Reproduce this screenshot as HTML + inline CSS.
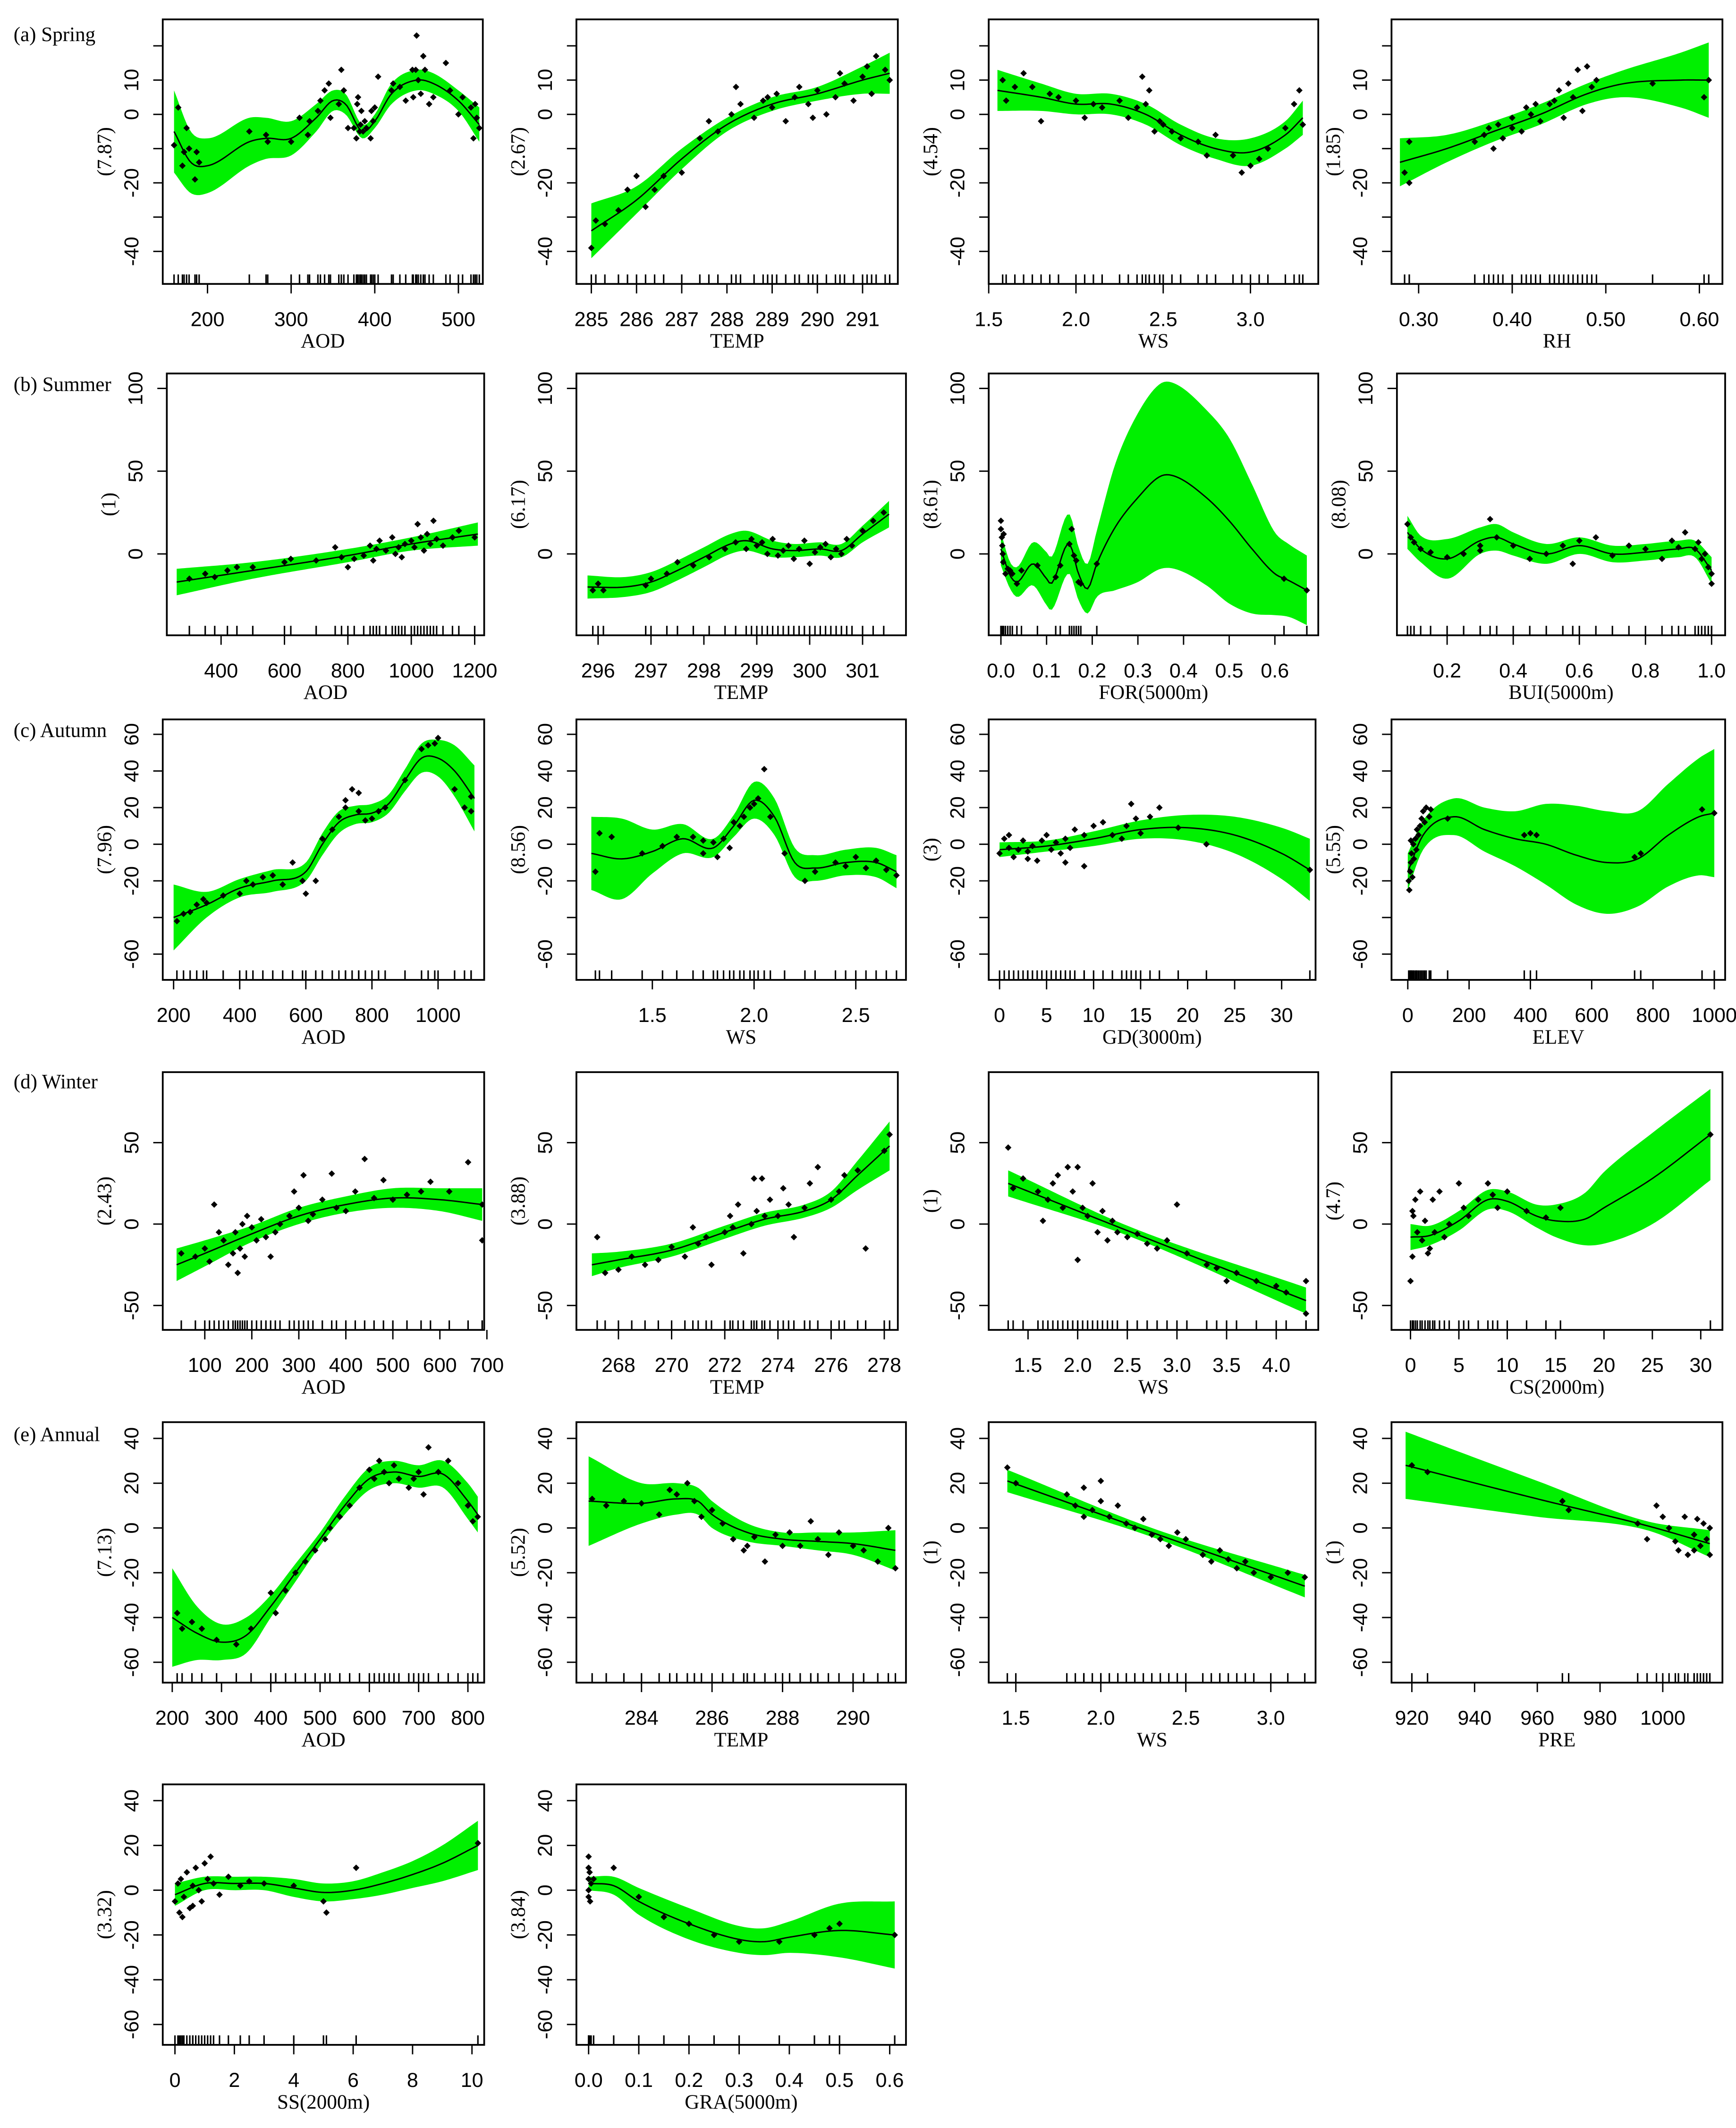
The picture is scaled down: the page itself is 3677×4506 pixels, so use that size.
<!DOCTYPE html>
<html><head><meta charset="utf-8"><style>
html,body{margin:0;padding:0;background:#fff}
svg{display:block}
.tk{font-family:"Liberation Sans",sans-serif;font-size:15px;fill:#000}
.lb{font-family:"Liberation Serif",serif;font-size:15px;fill:#000}
</style></head><body>
<svg id="fig" width="3677" height="4506" viewBox="0 0 1280 1568" xmlns="http://www.w3.org/2000/svg">
<rect width="1280" height="1568" fill="#fff"/>
<text class="lb" x="10" y="30">(a) Spring</text>
<text class="lb" x="10" y="288">(b) Summer</text>
<text class="lb" x="10" y="543">(c) Autumn</text>
<text class="lb" x="10" y="802">(d) Winter</text>
<text class="lb" x="10" y="1062">(e) Annual</text>
</svg>
<script>
const p1_fx=[160,180,200,250,270,300,330,350,365,385,400,420,450,470,500,525];
const p1_fy=[-5,-14,-15,-8,-7,-7,-1,4,3,-5,-2,6,10,9,4,-3];
const p1_se=[12,9,8,7,6,5,4,3,3,2,2,3,3,3,3,5];
const p1_pts=[[160,-9],[165,2],[170,-15],[172,-11],[175,-4],[178,-10],[185,-19],[187,-11],[190,-14],[250,-5],[270,-6],[272,-8],[300,-8],[310,-1],[320,-6],[322,-2],[332,1],[335,4],[340,7],[345,9],[347,-1],[357,3],[360,13],[363,7],[368,-4],[375,-4],[378,-7],[379,3],[380,5],[382,-5],[383,-3],[384,1],[386,-5],[388,-2],[390,-4],[395,-7],[396,1],[398,-2],[400,2],[404,11],[420,7],[422,9],[430,8],[437,4],[445,13],[446,5],[449,13],[450,23],[452,10],[455,6],[458,17],[460,13],[465,3],[470,5],[485,15],[490,7],[500,0],[505,5],[515,2],[518,-7],[520,3],[522,-1],[525,-4]];

const p2_fx=[285,286,287,288,289,290,291,291.6];
const p2_fy=[-34,-25,-13,-3,3,6,10,12];
const p2_se=[8,4,3,2,2,2,4,6];
const p2_pts=[[285,-39],[285.1,-31],[285.3,-32],[285.6,-28],[285.8,-22],[286,-18],[286.2,-27],[286.4,-22],[286.6,-18],[287,-17],[287.4,-7],[287.8,-5],[288.1,0],[288.3,3],[288.6,-1],[288.8,4],[289,2],[289.1,6],[289.3,-2],[289.5,5],[289.6,8],[289.8,3],[290,7],[290.2,0],[290.4,5],[290.6,9],[290.8,4],[291,11],[291.2,6],[291.3,17],[291.5,13],[291.6,10],[288.2,8],[289.9,-1],[290.5,12],[291.1,14],[288.9,5],[287.6,-2]];

const p3_fx=[1.55,1.8,2.0,2.2,2.4,2.6,2.8,3.0,3.2,3.3];
const p3_fy=[7,5,3,3,0,-6,-10,-11,-6,-1];
const p3_se=[6,4,3,3,3,3,3,4,4,5];
const p3_pts=[[1.58,10],[1.6,4],[1.65,8],[1.7,12],[1.75,8],[1.8,-2],[1.85,6],[1.9,5],[2.0,4],[2.05,-1],[2.1,3],[2.15,2],[2.25,4],[2.3,-1],[2.35,2],[2.38,11],[2.4,3],[2.42,7],[2.45,-5],[2.48,-2],[2.5,-3],[2.55,-5],[2.6,-7],[2.7,-8],[2.75,-12],[2.8,-6],[2.9,-12],[2.95,-17],[3.0,-15],[3.05,-13],[3.1,-10],[3.2,-4],[3.25,3],[3.28,7],[3.3,-3]];

const p4_fx=[0.28,0.33,0.38,0.43,0.48,0.52,0.58,0.61];
const p4_fy=[-14,-10,-5,0,6,9,10,10];
const p4_se=[7,4,3,3,3,4,8,11];
const p4_pts=[[0.285,-17],[0.29,-20],[0.29,-8],[0.36,-8],[0.37,-6],[0.375,-4],[0.38,-10],[0.385,-3],[0.39,-7],[0.4,-1],[0.41,-5],[0.415,2],[0.42,0],[0.43,-2],[0.44,3],[0.445,4],[0.45,7],[0.46,9],[0.465,5],[0.47,13],[0.475,1],[0.48,14],[0.485,8],[0.49,10],[0.4,-4],[0.425,3],[0.455,-1],[0.605,5],[0.61,10],[0.55,9]];

const p5_fx=[260,500,800,1000,1210];
const p5_fy=[-17,-10,-1,6,12];
const p5_se=[8,5,4,4,7];
const p5_pts=[[300,-15],[350,-12],[380,-14],[420,-10],[450,-8],[500,-8],[600,-5],[620,-3],[700,-4],[780,-2],[800,-8],[820,-3],[850,-1],[870,5],[890,3],[900,8],[920,2],[940,10],[950,0],[960,4],[970,-2],[980,6],[1000,8],[1010,4],[1020,18],[1030,10],[1040,2],[1050,12],[1060,6],[1070,20],[1080,9],[1100,5],[1130,10],[1150,14],[1200,10],[760,4],[880,-4]];

const p6_fx=[295.8,296.5,297,297.5,298,298.5,298.8,299.3,299.7,300.2,300.6,301,301.5];
const p6_fy=[-20,-20,-17,-10,-2,6,8,3,2,3,2,12,24];
const p6_se=[7,6,6,6,6,6,6,5,4,4,4,5,8];
const p6_pts=[[295.9,-22],[296,-18],[296.1,-22],[296.9,-19],[297,-15],[297.3,-12],[297.5,-5],[297.8,-7],[298.1,-2],[298.4,3],[298.6,7],[298.9,9],[299,5],[299.1,7],[299.2,0],[299.3,9],[299.4,-1],[299.5,2],[299.6,5],[299.7,-3],[299.8,3],[299.9,8],[300,-6],[300.1,1],[300.2,4],[300.3,6],[300.4,-2],[300.5,3],[300.6,0],[300.7,9],[301,14],[301.2,20],[301.4,25],[298.8,3],[300.8,5]];

const p7_fx=[0,0.02,0.035,0.07,0.1,0.11,0.15,0.17,0.19,0.21,0.25,0.3,0.35,0.38,0.45,0.5,0.55,0.6,0.63,0.67];
const p7_fy=[3,-13,-17,-6,-15,-18,6,-12,-21,-6,16,34,47,47,34,20,3,-12,-16,-22];
const p7_se=[10,8,9,13,16,16,18,16,15,20,38,51,56,56,53,50,39,25,22,21];
const p7_pts=[[0,20],[0,15],[0.002,10],[0.003,5],[0.004,0],[0.005,-5],[0.006,12],[0.01,-12],[0.015,-9],[0.02,-10],[0.025,-12],[0.035,-18],[0.045,-10],[0.08,-7],[0.12,-14],[0.13,-7],[0.15,6],[0.155,15],[0.16,-1],[0.165,-4],[0.17,-17],[0.175,-18],[0.21,-6],[0.62,-15],[0.67,-22]];

const p8_fx=[0.08,0.12,0.2,0.3,0.35,0.4,0.5,0.6,0.7,0.8,0.9,0.95,1.0];
const p8_fy=[13,3,-3,8,10,6,0,5,0,1,3,3,-10];
const p8_se=[10,8,12,8,8,7,6,5,5,5,5,5,8];
const p8_pts=[[0.08,18],[0.09,10],[0.1,7],[0.12,3],[0.15,1],[0.2,-2],[0.25,0],[0.3,5],[0.33,21],[0.35,10],[0.4,5],[0.45,-3],[0.5,0],[0.55,5],[0.58,-6],[0.6,8],[0.65,10],[0.7,-1],[0.75,5],[0.8,3],[0.85,-3],[0.88,8],[0.9,4],[0.92,13],[0.95,3],[0.97,-3],[0.98,0],[0.99,-8],[1.0,-12],[1.0,-18],[0.96,7],[0.3,2]];

const p9_fx=[200,300,400,500,600,650,700,750,800,850,900,950,1000,1050,1110];
const p9_fy=[-40,-33,-24,-20,-15,0,12,16,17,22,35,47,47,40,25];
const p9_se=[18,7,5,6,5,6,6,5,5,5,6,8,10,14,18];
const p9_pts=[[210,-42],[230,-38],[250,-37],[270,-33],[290,-30],[300,-32],[350,-28],[400,-27],[420,-20],[440,-22],[470,-18],[500,-17],[530,-22],[560,-10],[590,-20],[600,-27],[630,-20],[650,3],[680,8],[700,15],[720,24],[740,30],[760,28],[780,13],[800,14],[820,18],[840,20],[900,35],[950,52],[970,54],[990,55],[1000,58],[1050,30],[1080,20],[1100,18],[1100,26],[720,20],[760,18]];

const p10_fx=[1.2,1.35,1.5,1.65,1.8,1.9,2.0,2.1,2.2,2.3,2.45,2.6,2.7];
const p10_fy=[-5,-8,-4,3,-2,10,24,15,-10,-13,-10,-10,-15];
const p10_se=[20,22,12,8,5,6,10,10,8,7,7,8,9];
const p10_pts=[[1.22,-15],[1.24,6],[1.3,4],[1.45,-5],[1.55,-1],[1.62,4],[1.7,4],[1.75,2],[1.8,1],[1.82,-7],[1.85,3],[1.88,-2],[1.9,12],[1.93,10],[1.95,15],[1.98,20],[2.0,22],[2.02,25],[2.05,41],[2.08,15],[2.15,-5],[2.25,-20],[2.3,-15],[2.4,-10],[2.45,-12],[2.5,-7],[2.55,-13],[2.6,-9],[2.65,-14],[2.7,-17],[1.75,-5]];

const p11_fx=[0,5,10,15,20,25,30,33];
const p11_fy=[-3,-1,3,8,9,5,-5,-14];
const p11_se=[4,3,4,5,7,10,14,17];
const p11_pts=[[0,-5],[0.5,3],[1,-2],[1.5,-7],[2,-3],[2.5,2],[3,-4],[3.5,-1],[4,-9],[4.5,2],[5,5],[5.5,-3],[6,1],[6.5,-5],[7,3],[7.5,-2],[8,8],[9,5],[10,10],[11,12],[12,5],[13,3],[13.5,10],[14,22],[14.5,14],[15,6],[16,15],[17,20],[19,9],[22,0],[33,-14],[1,5],[3,-8],[9,-12],[7,-10]];

const p12_fx=[0,50,150,250,350,450,550,650,750,850,950,1000];
const p12_fy=[-15,5,15,8,3,0,-6,-10,-8,5,15,17];
const p12_se=[10,8,10,12,15,22,27,28,26,28,32,35];
const p12_pts=[[5,-25],[8,-15],[10,-10],[12,-5],[15,-18],[18,0],[20,-8],[25,3],[28,-3],[30,8],[35,5],[40,10],[45,14],[50,18],[55,12],[60,20],[70,15],[75,19],[130,14],[380,5],[400,6],[420,5],[740,-7],[760,-5],[960,19],[1000,17],[3,-20],[10,2]];

const p13_fx=[40,100,200,300,400,500,600,690];
const p13_fy=[-25,-18,-6,5,12,16,15,12];
const p13_se=[10,8,5,5,5,6,7,10];
const p13_pts=[[50,-18],[80,-20],[100,-15],[110,-23],[120,12],[140,-10],[150,-25],[160,-18],[165,-5],[170,-30],[175,-15],[180,0],[185,-20],[190,5],[200,-2],[210,-10],[220,3],[230,-8],[250,-5],[260,0],[280,5],[290,20],[300,10],[310,30],[320,2],[330,6],[350,15],[370,31],[380,10],[400,8],[420,20],[440,40],[460,16],[480,27],[500,15],[530,18],[560,20],[580,26],[620,20],[660,38],[690,-10],[690,12],[240,-20],[130,-5]];

const p14_fx=[267,268,270,272,273.5,275,276,277,278.2];
const p14_fy=[-25,-22,-16,-5,3,8,15,30,48];
const p14_se=[7,5,4,4,4,4,5,9,15];
const p14_pts=[[267.2,-8],[267.5,-30],[268,-28],[268.5,-20],[269,-25],[269.5,-22],[270,-14],[270.5,-20],[271,-12],[271.3,-8],[271.5,-25],[272,-5],[272.2,5],[272.3,-2],[272.5,12],[272.7,-18],[273,0],[273.2,8],[273.4,28],[273.5,5],[273.7,15],[274,5],[274.2,22],[274.4,12],[274.6,-8],[275,10],[275.2,25],[275.5,35],[276,15],[276.3,20],[276.5,30],[277,33],[277.3,-15],[278,45],[278.2,55],[270.8,-2],[273.1,28]];

const p15_fx=[1.3,2.5,4.3];
const p15_fy=[25,-4,-47];
const p15_se=[8,3,8];
const p15_pts=[[1.3,47],[1.35,22],[1.45,28],[1.6,20],[1.7,15],[1.75,25],[1.8,30],[1.85,10],[1.9,35],[1.95,20],[2.0,35],[2.0,-22],[2.05,10],[2.1,5],[2.15,25],[2.2,-5],[2.25,8],[2.3,-10],[2.35,2],[2.4,-5],[2.5,-8],[2.6,-6],[2.7,-12],[2.9,-10],[3.0,12],[3.1,-18],[3.3,-25],[3.4,-27],[3.5,-35],[3.6,-30],[3.8,-35],[4.0,-38],[4.1,-42],[4.3,-35],[4.3,-55],[1.65,2],[2.8,-15]];

const p16_fx=[0,2,5,8,10,13,15,18,20,25,31];
const p16_fy=[-8,-7,2,15,14,5,2,3,10,28,55];
const p16_se=[8,6,6,6,6,7,10,16,22,28,28];
const p16_pts=[[0,-35],[0.2,-20],[0.3,5],[0.5,15],[0.7,-5],[1,20],[1.2,-10],[1.5,2],[2,-15],[2.3,15],[2.5,-5],[3,20],[3.5,-8],[4,0],[5,25],[5.5,10],[6,5],[7,15],[8,25],[8.5,18],[9,10],[10,20],[12,8],[14,4],[15.5,10],[31,55],[0.2,8],[1.8,-18]];

const p17_fx=[200,250,300,350,400,450,500,550,600,650,700,750,800,820];
const p17_fy=[-40,-47,-51,-48,-35,-20,-5,10,22,25,23,24,12,6];
const p17_se=[22,12,8,8,5,4,3,4,5,5,5,6,8,8];
const p17_pts=[[210,-38],[220,-45],[240,-42],[260,-45],[290,-50],[330,-52],[360,-45],[400,-29],[410,-38],[430,-28],[450,-20],[470,-15],[490,-10],[510,-5],[520,0],[540,5],[560,10],[580,18],[600,26],[610,22],[620,30],[640,20],[650,28],[660,22],[680,18],[700,25],[710,15],[720,36],[740,25],[760,30],[780,20],[800,10],[810,3],[820,5],[690,22],[630,25]];

const p18_fx=[282.5,284,285,285.6,286,287,288,289,290,291.2];
const p18_fy=[12,11,13,12,6,-2,-5,-6,-7,-10];
const p18_se=[20,9,7,6,6,4,3,4,5,9];
const p18_pts=[[282.6,13],[283,10],[283.5,12],[284,11],[284.5,6],[284.8,17],[285,15],[285.3,20],[285.5,12],[285.7,5],[286,8],[286.3,2],[286.6,-5],[286.9,-10],[287.2,-4],[287.5,-15],[287.8,-3],[288,-8],[288.2,-2],[288.5,-8],[288.8,3],[289,-5],[289.3,-12],[289.6,-2],[290,-8],[290.3,-10],[290.7,-15],[291,0],[291.2,-18],[287,-8]];

const p19_fx=[1.45,2.3,3.2];
const p19_fy=[21,-2,-26];
const p19_se=[5,2,5];
const p19_pts=[[1.45,27],[1.5,20],[1.8,15],[1.85,10],[1.9,18],[1.95,8],[2.0,12],[2.0,21],[2.05,5],[2.1,10],[2.15,2],[2.2,0],[2.25,4],[2.3,-3],[2.35,-5],[2.4,-8],[2.5,-5],[2.6,-12],[2.65,-15],[2.7,-10],[2.8,-18],[2.85,-15],[2.9,-20],[3.0,-22],[3.1,-20],[3.2,-22],[1.9,5],[2.45,-2],[2.75,-14]];

const p20_fx=[918,960,995,1015];
const p20_fy=[28,13,1,-7];
const p20_se=[15,8,2,6];
const p20_pts=[[920,28],[925,25],[968,12],[970,8],[992,2],[995,-5],[998,10],[1000,5],[1002,0],[1005,-10],[1007,5],[1008,-12],[1010,-3],[1012,-8],[1013,2],[1014,-5],[1015,-12],[1010,-10],[1015,0],[1004,-6],[1011,4]];

const p21_fx=[0,1,2,3,4,5,6,7,8,9,10.2];
const p21_fy=[-2,3,3,3,1,-1,0,3,7,12,20];
const p21_se=[5,3,3,3,4,4,4,5,6,8,11];
const p21_pts=[[0,-5],[0.1,3],[0.15,-10],[0.2,5],[0.3,-3],[0.4,8],[0.5,-8],[0.6,2],[0.7,10],[0.8,0],[0.9,-5],[1.0,12],[1.1,5],[1.2,15],[1.3,3],[1.5,-2],[1.8,6],[2.2,2],[2.5,4],[3,3],[4,2],[5,-5],[5.1,-10],[6.1,10],[10.2,21],[0.25,-12],[0.6,-7]];

const p22_fx=[0,0.05,0.1,0.2,0.3,0.35,0.4,0.5,0.61];
const p22_fy=[3,2,-5,-15,-22,-23,-21,-18,-20];
const p22_se=[3,4,6,7,6,6,7,12,15];
const p22_pts=[[0,15],[0,10],[0,5],[0,0],[0,-3],[0.002,8],[0.003,-5],[0.005,3],[0.01,5],[0.05,10],[0.1,-3],[0.15,-12],[0.2,-15],[0.25,-20],[0.3,-23],[0.38,-23],[0.45,-20],[0.48,-17],[0.5,-15],[0.61,-20]];

const yLabels=["(7.87)","(2.67)","(4.54)","(1.85)","(1)","(6.17)","(8.61)","(8.08)","(7.96)","(8.56)","(3)","(5.55)","(2.43)","(3.88)","(1)","(4.7)","(7.13)","(5.52)","(1)","(1)","(3.32)","(3.84)"];
const xLabels=["AOD","TEMP","WS","RH","AOD","TEMP","FOR(5000m)","BUI(5000m)","AOD","WS","GD(3000m)","ELEV","AOD","TEMP","WS","CS(2000m)","AOD","TEMP","WS","PRE","SS(2000m)","GRA(5000m)"];
const xTicks=[
 ["200","300","400","500"],["285","286","287","288","289","290","291"],["1.5","2.0","2.5","3.0"],["0.30","0.40","0.50","0.60"],
 ["400","600","800","1000","1200"],["296","297","298","299","300","301"],["0.0","0.1","0.2","0.3","0.4","0.5","0.6"],["0.2","0.4","0.6","0.8","1.0"],
 ["200","400","600","800","1000"],["1.5","2.0","2.5"],["0","5","10","15","20","25","30"],["0","200","400","600","800","1000"],
 ["100","200","300","400","500","600","700"],["268","270","272","274","276","278"],["1.5","2.0","2.5","3.0","3.5","4.0"],["0","5","10","15","20","25","30"],
 ["200","300","400","500","600","700","800"],["284","286","288","290"],["1.5","2.0","2.5","3.0"],["920","940","960","980","1000"],
 ["0","2","4","6","8","10"],["0.0","0.1","0.2","0.3","0.4","0.5","0.6"]];
const rowYTicks=[[-40,-30,-20,-10,0,10,20],[0,50,100],[-60,-40,-20,0,20,40,60],[-50,0,50],[-60,-40,-20,0,20,40],[-60,-40,-20,0,20,40]];
const rowYTickLabels=[["-40","","-20","","0","10",""],["0","50","100"],["-60","","-20","0","20","40","60"],["-50","0","50"],["-60","-40","-20","0","20","40"],["-60","-40","-20","0","20","40"]];

const rowGeo=[{t:14,b:209,z:84,k:2.525},{t:275,b:468,z:408,k:1.22},{t:530,b:722,z:622,k:1.35},{t:790,b:980,z:902,k:1.2},{t:1048,b:1240,z:1126,k:1.65},{t:1315,b:1507,z:1393,k:1.65}];
const geo=[
 [120,356,200,153,500,338],[425,662,285,436,291,636],[729,972,1.5,729,3.0,922],[1026,1270,0.3,1046,0.6,1253],
 [123,357,400,163,1200,350],[425,668,296,441,301,636],[729,972,0,738,0.6,940],[1030,1272,0.2,1067,1.0,1262],
 [120,357,200,128,1000,323],[425,668,1.5,481,2.5,631],[729,970,0,737,30,945],[1026,1272,0,1038,1000,1264],
 [120,357,100,151,700,359],[425,662,268,456,278,652],[729,972,1.5,758,4.0,941],[1026,1270,0,1040,30,1254],
 [120,357,200,127,800,345],[425,668,284,473,290,629],[729,970,1.5,749,3.0,937],[1026,1270,920,1041,1000,1226],
 [120,357,0,129,10,348],[425,668,0,434,0.6,656]];

const FX=[p1_fx,p2_fx,p3_fx,p4_fx,p5_fx,p6_fx,p7_fx,p8_fx,p9_fx,p10_fx,p11_fx,p12_fx,p13_fx,p14_fx,p15_fx,p16_fx,p17_fx,p18_fx,p19_fx,p20_fx,p21_fx,p22_fx];
const FY=[p1_fy,p2_fy,p3_fy,p4_fy,p5_fy,p6_fy,p7_fy,p8_fy,p9_fy,p10_fy,p11_fy,p12_fy,p13_fy,p14_fy,p15_fy,p16_fy,p17_fy,p18_fy,p19_fy,p20_fy,p21_fy,p22_fy];
const SE=[p1_se,p2_se,p3_se,p4_se,p5_se,p6_se,p7_se,p8_se,p9_se,p10_se,p11_se,p12_se,p13_se,p14_se,p15_se,p16_se,p17_se,p18_se,p19_se,p20_se,p21_se,p22_se];
const PTS=[p1_pts,p2_pts,p3_pts,p4_pts,p5_pts,p6_pts,p7_pts,p8_pts,p9_pts,p10_pts,p11_pts,p12_pts,p13_pts,p14_pts,p15_pts,p16_pts,p17_pts,p18_pts,p19_pts,p20_pts,p21_pts,p22_pts];

const NS="http://www.w3.org/2000/svg";
const svg=document.getElementById('fig');
function mk(tag,attrs,parent){const e=document.createElementNS(NS,tag);for(const k in attrs)e.setAttribute(k,attrs[k]);(parent||svg).appendChild(e);return e;}
function interp(xs,ys,x){
  const n=xs.length;if(n===1)return ys[0];
  let i=0;while(i<n-2&&x>xs[i+1])i++;
  const x0=xs[i],x1=xs[i+1],y0=ys[i],y1=ys[i+1],h=x1-x0;
  const sl=(a,b)=>(ys[b]-ys[a])/(xs[b]-xs[a]);
  const m0=i>0?(sl(i-1,i)+sl(i,i+1))/2:sl(i,i+1);
  const m1=i+2<n?(sl(i,i+1)+sl(i+1,i+2))/2:sl(i,i+1);
  const t=(x-x0)/h,t2=t*t,t3=t2*t;
  return (2*t3-3*t2+1)*y0+(t3-2*t2+t)*h*m0+(-2*t3+3*t2)*y1+(t3-t2)*h*m1;
}
function tickVal(s){return parseFloat(s);}

for(let p=0;p<22;p++){
  const r=Math.floor(p/4);
  const R=rowGeo[r], G=geo[p];
  const L=G[0],Rt=G[1];
  const sx=v=>G[3]+(v-G[2])*(G[5]-G[3])/(G[4]-G[2]);
  const sy=v=>R.z-v*R.k;
  const g=mk('g',{});
  
  
  const cp=mk('clipPath',{id:'cp'+p},g);
  mk('rect',{x:L,y:R.t,width:Rt-L,height:R.b-R.t},cp);
  const plot=mk('g',{'clip-path':'url(#cp'+p+')'},g);
  const xs=FX[p],ys=FY[p],se=SE[p];
  const up=ys.map((v,i)=>v+se[i]), lo=ys.map((v,i)=>v-se[i]);
  const N=120, x0=xs[0], x1=xs[xs.length-1];
  let top=[],bot=[],line=[];
  for(let i=0;i<=N;i++){const x=x0+(x1-x0)*i/N;
    top.push(sx(x).toFixed(2)+','+sy(interp(xs,up,x)).toFixed(2));
    bot.push(sx(x).toFixed(2)+','+sy(interp(xs,lo,x)).toFixed(2));
    line.push(sx(x).toFixed(2)+','+sy(interp(xs,ys,x)).toFixed(2));}
  const band=mk('polygon',{points:top.concat(bot.reverse()).join(' '),fill:'#00f000'},plot);
  
  
  const fit=mk('polyline',{points:line.join(' '),fill:'none',stroke:'#000','stroke-width':1},plot);
  
  
  PTS[p].forEach(q=>{const X=sx(q[0]),Y=sy(q[1]);const d=2.4;
    const pt=mk('path',{d:`M${X-d},${Y}L${X},${Y-d}L${X+d},${Y}L${X},${Y+d}Z`,fill:'#000'},plot);
    
    
    const rug=mk('line',{x1:X,x2:X,y1:R.b-7,y2:R.b,stroke:'#000','stroke-width':1.1},plot);
    
    
  });
  const box=mk('rect',{x:L,y:R.t,width:Rt-L,height:R.b-R.t,fill:'none',stroke:'#000','stroke-width':1.3},g);
  
  
  xTicks[p].forEach(s=>{const X=sx(tickVal(s));
    mk('line',{x1:X,x2:X,y1:R.b,y2:R.b+7,stroke:'#000','stroke-width':1},g);
    const t=mk('text',{x:X,y:R.b+31,'text-anchor':'middle',class:'tk'},g);t.textContent=s;
    
    
  });
  const xl=mk('text',{x:(L+Rt)/2,y:R.b+47,'text-anchor':'middle',class:'lb'},g);xl.textContent=xLabels[p];
  
  
  rowYTicks[r].forEach((v,i)=>{const Y=sy(v);
    mk('line',{x1:L-7,x2:L,y1:Y,y2:Y,stroke:'#000','stroke-width':1},g);
    const s=rowYTickLabels[r][i]; if(!s)return;
    const t=mk('text',{x:L-18,y:Y,'text-anchor':'middle',class:'tk',transform:`rotate(-90 ${L-18} ${Y})`},g);t.textContent=s;
    
    
  });
  const yc=(R.t+R.b)/2;
  const yl=mk('text',{x:L-38,y:yc,'text-anchor':'middle',class:'lb',transform:`rotate(-90 ${L-38} ${yc})`},g);yl.textContent=yLabels[p];
  
  
}
</script>
</body></html>
